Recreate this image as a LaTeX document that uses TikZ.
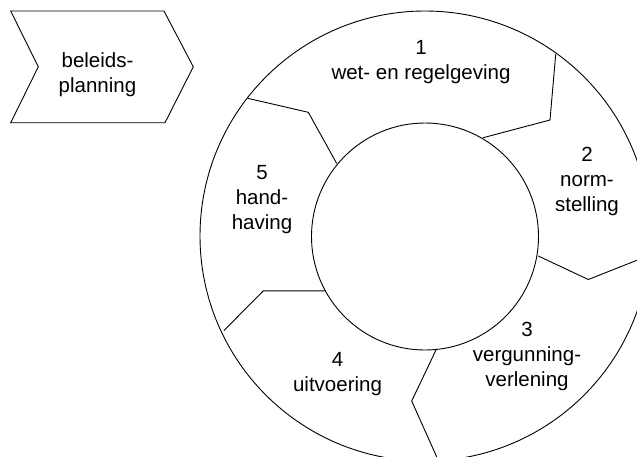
\documentclass[tikz,border=0pt]{standalone}
\usepackage{fontspec}
\setmainfont{Liberation Sans}
\begin{document}
\begin{tikzpicture}[x=1pt,y=-1pt,line width=0.9pt,
  lbl/.style={align=center,font=\fontsize{20.5}{25}\selectfont,anchor=base,inner sep=0pt},
  ring/.style={circle,draw,inner sep=0pt}]
\useasboundingbox (0,0) rectangle (637,456);
\clip (0,0) rectangle (637,456);
% chevron
\draw (10.7,11) -- (164,11) -- (193.3,66.8) -- (165,122.7) -- (10.7,122.7) -- (38.3,66.8) -- cycle;
\node[lbl] (plan) at (97.5,92) {beleids-\\planning};
% rings
\node[ring,minimum size=450pt] (outer) at (425,236) {};
\node[ring,minimum size=227pt] (inner) at (425,236.5) {};
% dividers
\coordinate (a1) at (555.7,54.3);  \coordinate (a2) at (550,120);   \coordinate (a3) at (482.8,137.8);
\coordinate (b1) at (649.5,255.3); \coordinate (b2) at (588.3,279.5); \coordinate (b3) at (538.3,256);
\coordinate (c1) at (438.4,460.7); \coordinate (c2) at (411.7,401); \coordinate (c3) at (436,350);
\coordinate (d1) at (224,330.5);   \coordinate (d2) at (263.3,290.8); \coordinate (d3) at (325,290.8);
\coordinate (e1) at (247.7,98.3);  \coordinate (e2) at (308.3,112.3); \coordinate (e3) at (336.7,163.5);
\draw (a1) -- (a2) -- (a3);
\draw (b1) -- (b2) -- (b3);
\draw (c1) -- (c2) -- (c3);
\draw (d1) -- (d2) -- (d3);
\draw (e1) -- (e2) -- (e3);
% labels
\node[lbl] (s1) at (421,79) {1\\wet- en regelgeving};
\node[lbl] (s2) at (587,211.7) {2\\norm-\\stelling};
\node[lbl] (s3) at (527,386.7) {3\\vergunning-\\verlening};
\node[lbl] (s4) at (337.5,391) {4\\uitvoering};
\node[lbl] (s5) at (262,229.5) {5\\hand-\\having};
\end{tikzpicture}
\end{document}
